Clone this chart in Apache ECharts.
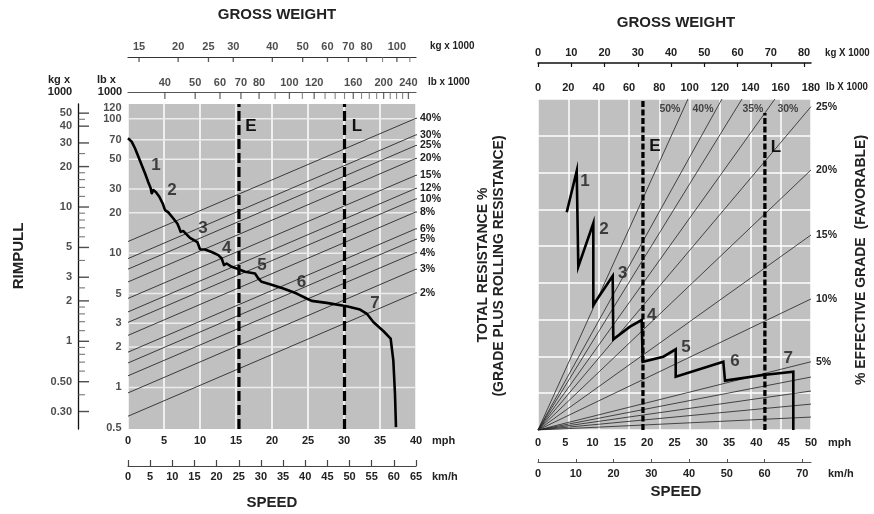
<!DOCTYPE html>
<html><head><meta charset="utf-8">
<script src="https://cdn.jsdelivr.net/npm/echarts@6/dist/echarts.min.js"></script>
<style>html,body{margin:0;padding:0;background:#fff}#c{width:874px;height:514px}</style>
</head><body><div id="c"></div>
<script>
// ================= LEFT CHART (RIMPULL) DATA =================
const leftWeightLbRange = [30.5, 253.8];      // lb x 1000 across the plot (log)
const leftWeightKgRange = [13.83, 115.1];     // kg x 1000 across the plot (log)
const rimpullRangeLb = [0.49, 129];           // lb x 1000 rimpull (log)
const rimpullRangeKg = [0.2223, 58.5];        // kg x 1000 rimpull (log)
const leftWeightKgMajor = [15, 20, 25, 30, 40, 50, 60, 70, 80, 100];
const leftWeightKgMinor = [90, 110];
const leftWeightLbMajor = [40, 50, 60, 70, 80, 100, 120, 160, 200, 240];
const leftWeightLbMinor = [90, 110, 130, 140, 150, 170, 180, 190, 210, 220, 230];
const rimpullTickLabels = [120, 100, 70, 50, 30, 20, 10, 5, 3, 2, 1, 0.5];
const rimpullGridValues = [100, 70, 50, 30, 20, 10, 5, 3, 2, 1];
const rimpullKgMajor = [50, 40, 30, 20, 10, 5, 3, 2, 1, 0.5, 0.3];
const rimpullKgMajorText = ['50', '40', '30', '20', '10', '5', '3', '2', '1', '0.50', '0.30'];
const rimpullKgMinor = [45, 25, 18, 16, 14, 12, 9, 8, 7, 6, 4, 2.5, 1.8, 1.6, 1.4, 1.2, 0.9, 0.8, 0.7, 0.6, 0.4];
const gradeLabels = ['40%', '30%', '25%', '20%', '15%', '12%', '10%', '8%', '6%', '5%', '4%', '3%', '2%'];
const gradeRimpullAtMinWeight = [12.2, 9.1, 7.6, 6.1, 4.6, 3.65, 3.05, 2.44, 1.83, 1.52, 1.22, 0.91, 0.61];
const gradeRimpullAtMaxWeight = [101, 76, 63.4, 50.8, 38, 30.4, 25.4, 20.3, 15.2, 12.7, 10.1, 7.6, 5.07];
const gradeLeaderWeightLb = 270.3;            // where the short leader to each label ends
const gradeLeaderRimpull = [100, 76.9, 62.9, 50.3, 37.8, 30.4, 24.7, 19.3, 14.85, 12.36, 9.71, 7.38, 4.86];
const leftEmptyWeightLb = 69;
const leftLoadedWeightLb = 150;
// rimpull curve: [mph, lb x 1000]
const rimpullCurve = [
  [0, 71.7], [0.51, 67.7], [0.97, 60.4], [1.43, 52.4], [1.9, 45.4], [2.36, 39.3], [2.82, 33.7],
  [3.15, 30.4], [3.29, 27.9], [3.52, 29.5], [3.89, 28.4], [4.35, 26.3], [4.81, 23.5], [5.14, 20.9],
  [5.6, 20.1], [6.3, 18.1], [6.85, 16.6], [7.13, 15.3], [7.31, 14.4], [7.69, 14.6], [8.61, 13.0],
  [9.63, 12.1], [10.0, 10.7], [10.69, 10.65], [11.62, 10.2], [12.55, 9.66], [13.01, 9.12],
  [13.33, 8.14], [13.7, 8.37], [14.4, 7.91], [15.09, 7.69], [16.25, 7.26], [17.64, 7.05],
  [18.1, 6.47], [18.56, 6.11], [19.72, 5.87], [21.57, 5.45], [23.43, 5.0], [24.81, 4.59],
  [25.51, 4.41], [27.59, 4.26], [30.37, 4.02], [32.22, 3.8], [33.15, 3.55], [34.07, 3.07],
  [35.46, 2.63], [36.48, 2.31], [36.85, 1.59], [37.08, 0.897], [37.22, 0.506]
];
const gearNames = ['1', '2', '3', '4', '5', '6', '7'];
const leftGearLabelMph = [3.9, 6.1, 10.4, 13.7, 18.6, 24.1, 34.3];
const leftGearLabelRimpull = [45.3, 29.5, 15.4, 10.9, 8.1, 6.1, 4.25];

// ================= RIGHT CHART (RETARDER) DATA =================
const rightWeightKgTicks = [0, 10, 20, 30, 40, 50, 60, 70, 80];
const rightSpeedKmhTicks = [0, 10, 20, 30, 40, 50, 60, 70];
const resistanceMax = 25.56;
const effGradeLabels = ['50%', '40%', '35%', '30%', '25%', '20%', '15%', '10%', '5%', '4%', '3%', '2%', '1%'];
const effGradeEndLb = [98.9, 121.3, 134.5, 156.2, 180, 180, 180, 180, 180, 180, 180, 180, 180];
const effGradeEndPct = [25.56, 25.56, 25.56, 25.56, 24.97, 20.08, 15.06, 10.12, 5.27, 4.09, 3.01, 2.0, 1.0];
const effGradeShowEndLabel = [false, false, false, false, true, true, true, true, true, false, false, false, false];
const topGradeLabels = ['50%', '40%', '35%', '30%'];
const topGradeLabelLb = [87, 108.8, 141.7, 164.8];
const topGradeLabelPct = [24.8, 24.8, 24.8, 24.8];
const rightEmptyWeightLb = 69.2;
const rightLoadedWeightLb = 149.6;
const rightLoadedLineTopPct = 24.48;
// retarder curve: [mph, total resistance %]
const retarderCurve = [
  [5.26, 16.81], [7.09, 20.0], [7.38, 12.61], [10.13, 15.96], [10.13, 9.65], [13.68, 11.89],
  [13.79, 7.0], [16.85, 7.98], [18.99, 8.49], [19.18, 5.27], [22.95, 5.66], [25.22, 6.23],
  [25.22, 4.12], [33.94, 5.27], [34.25, 3.81], [41.26, 4.25], [46.76, 4.5], [46.76, 0]
];
const rightGearLabelMph = [8.61, 12.09, 15.51, 20.82, 27.1, 36.08, 45.84];
const rightGearLabelPct = [19.23, 15.52, 12.1, 8.88, 6.41, 5.27, 5.54];

// ================= STYLES =================
const FT = "'Liberation Sans Narrow','Liberation Sans',Arial,sans-serif";
const FN = "'Liberation Sans',Arial,sans-serif";
const tickFont = { fontFamily: FT, fontWeight: 'bold', fontSize: 11, color: '#222' };
const GRAY = '#c0c0c0';
const GRIDLINE = '#ececec';
const hidden = { show: false };
const noLine = { show: false, onZero: false };
const PLOT_W_LEFT = 288;

const grids = [
  { left: 128, top: 104, width: PLOT_W_LEFT, height: 325, show: true, backgroundColor: GRAY, borderWidth: 0, outerBoundsMode: 'none' },
  { left: 128, top: 57, width: 288, height: 5, outerBoundsMode: 'none' },
  { left: 128, top: 92, width: 288, height: 7, outerBoundsMode: 'none' },
  { left: 78, top: 104, width: 11, height: 325, outerBoundsMode: 'none' },
  { left: 538, top: 99, width: 273, height: 331, show: true, backgroundColor: GRAY, borderWidth: 0, outerBoundsMode: 'none' }
];

const xAxes = [
  { gridIndex: 0, type: 'value', min: 0, max: 40, interval: 5, position: 'bottom',
    axisLine: noLine, axisTick: hidden, axisLabel: Object.assign({ margin: 6 }, tickFont),
    splitLine: { show: true, lineStyle: { color: '#fff', width: 1.5 } } },
  { gridIndex: 0, type: 'log', min: leftWeightLbRange[0], max: leftWeightLbRange[1], position: 'top', show: false },
  { gridIndex: 0, type: 'value', min: 0, max: 65, interval: 5, position: 'bottom', offset: 37,
    axisLine: { show: true, onZero: false, lineStyle: { color: '#444', width: 1.2 } },
    axisTick: { show: true, inside: true, length: 6, lineStyle: { color: '#444', width: 1.2 } },
    axisLabel: Object.assign({ margin: 5 }, tickFont), splitLine: hidden },
  { gridIndex: 1, type: 'log', min: leftWeightKgRange[0], max: leftWeightKgRange[1], position: 'top',
    axisLine: { show: true, onZero: false, lineStyle: { color: '#333', width: 1.2 } },
    axisTick: hidden, axisLabel: hidden, splitLine: hidden },
  { gridIndex: 2, type: 'log', min: leftWeightLbRange[0], max: leftWeightLbRange[1], position: 'top',
    axisLine: { show: true, onZero: false, lineStyle: { color: '#555', width: 1.2 } },
    axisTick: hidden, axisLabel: hidden, splitLine: hidden },
  { gridIndex: 3, type: 'value', min: 0, max: 1, show: false },
  { gridIndex: 4, type: 'value', min: 0, max: 50, interval: 5, position: 'bottom',
    axisLine: noLine, axisTick: hidden, axisLabel: Object.assign({ margin: 7 }, tickFont), splitLine: hidden },
  { gridIndex: 4, type: 'value', min: 0, max: 180, interval: 20, position: 'top',
    axisLine: noLine, axisTick: hidden, axisLabel: Object.assign({ margin: 6 }, tickFont),
    splitLine: { show: true, lineStyle: { color: '#fff', width: 1.5 } } },
  { gridIndex: 4, type: 'value', min: 0, max: 82.1, interval: 10, position: 'top', offset: 36,
    axisLine: { show: true, onZero: false, lineStyle: { color: '#111', width: 1.5 } },
    axisTick: { show: true, inside: true, length: 4, customValues: rightWeightKgTicks, lineStyle: { color: '#111', width: 1.2 } },
    axisLabel: Object.assign({ margin: 5, customValues: rightWeightKgTicks }, tickFont), splitLine: hidden },
  { gridIndex: 4, type: 'value', min: 0, max: 72.3, interval: 10, position: 'bottom', offset: 32,
    axisLine: { show: true, onZero: false, lineStyle: { color: '#555', width: 1.2 } },
    axisTick: { show: true, inside: true, length: 3, customValues: rightSpeedKmhTicks, lineStyle: { color: '#555' } },
    axisLabel: Object.assign({ margin: 6, customValues: rightSpeedKmhTicks }, tickFont), splitLine: hidden }
];

const yAxes = [
  { gridIndex: 0, type: 'log', min: rimpullRangeLb[0], max: rimpullRangeLb[1], show: false },
  { gridIndex: 1, type: 'value', min: 0, max: 1, show: false },
  { gridIndex: 2, type: 'value', min: 0, max: 1, show: false },
  { gridIndex: 3, type: 'log', min: rimpullRangeKg[0], max: rimpullRangeKg[1], position: 'left',
    axisLine: { show: true, onZero: false, lineStyle: { color: '#111', width: 1.3 } },
    axisTick: hidden, axisLabel: hidden, splitLine: hidden },
  { gridIndex: 4, type: 'value', min: 0, max: resistanceMax, interval: resistanceMax / 9,
    axisLine: noLine, axisTick: hidden, axisLabel: hidden,
    splitLine: { show: true, lineStyle: { color: '#fff', width: 1.5 } } }
];

const series = [];
const labelOnly = (extra) => Object.assign({ type: 'scatter', symbol: 'circle', symbolSize: 1, silent: true,
  itemStyle: { color: 'transparent' } }, extra);
const gearFont = { fontFamily: FN, fontSize: 17, fontWeight: 'bold', color: '#1a1a1a' };

// --- left: light horizontal grid lines drawn as full-width bar symbols placed on the log rimpull scale
series.push({ type: 'scatter', xAxisIndex: 0, yAxisIndex: 0, symbol: 'rect', symbolSize: [PLOT_W_LEFT, 1.5],
  silent: true, z: 3, itemStyle: { color: GRIDLINE, opacity: 1 },
  data: rimpullGridValues.map(v => [20, v]) });
// --- left: grade lines (with short leaders to their labels)
gradeLabels.forEach((g, i) => {
  series.push({ type: 'line', xAxisIndex: 1, yAxisIndex: 0, symbol: 'none', silent: true, z: 4, clip: false,
    data: [[leftWeightLbRange[0], gradeRimpullAtMinWeight[i]], [leftWeightLbRange[1], gradeRimpullAtMaxWeight[i]],
      [gradeLeaderWeightLb, gradeLeaderRimpull[i]]],
    lineStyle: { color: '#2a2a2a', width: 0.9 },
    endLabel: Object.assign({ show: true, formatter: g, distance: 3 }, tickFont, { fontSize: 10.5 }) });
});
// --- left: E and L weight lines
[leftEmptyWeightLb, leftLoadedWeightLb].forEach(w => {
  series.push({ type: 'line', xAxisIndex: 1, yAxisIndex: 0, symbol: 'none', silent: true, z: 5,
    data: [[w, rimpullRangeLb[0]], [w, rimpullRangeLb[1]]],
    lineStyle: { color: '#000', width: 3.2, type: [10, 4] } });
});
// --- left: rimpull curve
series.push({ type: 'line', xAxisIndex: 0, yAxisIndex: 0, symbol: 'none', silent: true, z: 6,
  data: rimpullCurve, lineStyle: { color: '#000', width: 2.6, join: 'round' } });
// --- left: gear labels
series.push(labelOnly({ xAxisIndex: 0, yAxisIndex: 0, z: 7,
  data: gearNames.map((n, i) => ({ name: n, value: [leftGearLabelMph[i], leftGearLabelRimpull[i]] })),
  label: Object.assign({ show: true, position: 'inside', formatter: '{b}' }, gearFont) }));
// --- left: rimpull lb tick labels
series.push(labelOnly({ xAxisIndex: 0, yAxisIndex: 0, z: 7,
  data: rimpullTickLabels.map(v => [0, v]),
  label: Object.assign({ show: true, position: 'left', distance: 6, formatter: p => String(p.value[1]) }, tickFont) }));
// --- left: top kg weight scale
series.push({ type: 'scatter', xAxisIndex: 3, yAxisIndex: 1, symbol: 'rect', symbolSize: [1.3, 5], silent: true,
  itemStyle: { color: '#333' }, data: leftWeightKgMajor.map(v => [v, 0.5]),
  label: Object.assign({ show: true, position: 'top', distance: 5, formatter: p => String(p.value[0]) }, tickFont) });
series.push({ type: 'scatter', xAxisIndex: 3, yAxisIndex: 1, symbol: 'rect', symbolSize: [1.1, 5], silent: true,
  itemStyle: { color: '#666' }, data: leftWeightKgMinor.map(v => [v, 0.5]) });
// --- left: top lb weight scale
series.push({ type: 'scatter', xAxisIndex: 4, yAxisIndex: 2, symbol: 'rect', symbolSize: [1.3, 7], silent: true,
  itemStyle: { color: '#444' }, data: leftWeightLbMajor.map(v => [v, 0.5]),
  label: Object.assign({ show: true, position: 'top', distance: 4, formatter: p => String(p.value[0]) }, tickFont) });
series.push({ type: 'scatter', xAxisIndex: 4, yAxisIndex: 2, symbol: 'rect', symbolSize: [1.1, 7], silent: true,
  itemStyle: { color: '#666' }, data: leftWeightLbMinor.map(v => [v, 0.5]) });
// --- left: kg rimpull vertical scale
series.push({ type: 'scatter', xAxisIndex: 5, yAxisIndex: 3, symbol: 'rect', symbolSize: [11, 1.4], silent: true,
  itemStyle: { color: '#222' }, data: rimpullKgMajor.map((v, i) => ({ name: rimpullKgMajorText[i], value: [0.5, v] })),
  label: Object.assign({ show: true, position: 'left', distance: 6, formatter: '{b}' }, tickFont) });
series.push({ type: 'scatter', xAxisIndex: 5, yAxisIndex: 3, symbol: 'rect', symbolSize: [7, 1.1], symbolOffset: [-2, 0], silent: true,
  itemStyle: { color: '#555' }, data: rimpullKgMinor.map(v => [0.5, v]) });

// --- right: effective grade radial lines
effGradeLabels.forEach((g, i) => {
  series.push({ type: 'line', xAxisIndex: 7, yAxisIndex: 4, symbol: 'none', silent: true, z: 3,
    data: [[0, 0], [effGradeEndLb[i], effGradeEndPct[i]]],
    lineStyle: { color: '#222', width: 0.8 },
    endLabel: Object.assign({ show: effGradeShowEndLabel[i], formatter: g, distance: 5 }, tickFont, { fontSize: 10.5 }) });
});
series.push(labelOnly({ xAxisIndex: 7, yAxisIndex: 4, z: 6,
  data: topGradeLabels.map((n, i) => ({ name: n, value: [topGradeLabelLb[i], topGradeLabelPct[i]] })),
  label: Object.assign({ show: true, position: 'inside', formatter: '{b}' }, tickFont, { fontSize: 10.5 }) }));
// --- right: E and L lines
series.push({ type: 'line', xAxisIndex: 7, yAxisIndex: 4, symbol: 'none', silent: true, z: 4,
  data: [[rightEmptyWeightLb, 0], [rightEmptyWeightLb, resistanceMax]],
  lineStyle: { color: '#000', width: 3.3, type: [6, 2.5] } });
series.push({ type: 'line', xAxisIndex: 7, yAxisIndex: 4, symbol: 'none', silent: true, z: 4,
  data: [[rightLoadedWeightLb, 0], [rightLoadedWeightLb, rightLoadedLineTopPct]],
  lineStyle: { color: '#000', width: 3.3, type: [6, 2.5] } });
// --- right: retarder curve
series.push({ type: 'line', xAxisIndex: 6, yAxisIndex: 4, symbol: 'none', silent: true, z: 5,
  data: retarderCurve, lineStyle: { color: '#000', width: 2.6, join: 'miter' } });
series.push(labelOnly({ xAxisIndex: 6, yAxisIndex: 4, z: 6,
  data: gearNames.map((n, i) => ({ name: n, value: [rightGearLabelMph[i], rightGearLabelPct[i]] })),
  label: Object.assign({ show: true, position: 'inside', formatter: '{b}' }, gearFont) }));

// ================= TEXT =================
const txt = (text, x, y, o) => {
  o = o || {};
  const el = { type: 'text', x: x, y: y, silent: true, z: 10,
    style: Object.assign({ text: text, fill: '#222', align: 'center', verticalAlign: 'middle',
      font: "bold 11px " + FT }, o.style || {}) };
  if (o.rotation) el.rotation = o.rotation;
  if (o.scaleX) el.scaleX = o.scaleX;
  return el;
};
const title = "bold 15px " + FN;
const big = "bold 17px " + FN;
const rot = "bold 14px " + FN;
const graphics = [
  txt('GROSS WEIGHT', 277, 15, { style: { font: title } }),
  txt('kg x 1000', 430, 46, { style: { align: 'left' }, scaleX: 0.9 }),
  txt('lb x 1000', 428, 82, { style: { align: 'left' }, scaleX: 0.9 }),
  txt('kg x', 59, 80), txt('1000', 60, 92),
  txt('lb x', 97, 80, { style: { align: 'left' } }), txt('1000', 110, 92),
  txt('RIMPULL', 19, 256, { rotation: Math.PI / 2, style: { font: title } }),
  txt('mph', 432, 441, { style: { align: 'left' } }),
  txt('km/h', 432, 477, { style: { align: 'left' } }),
  txt('SPEED', 272, 503, { style: { font: title } }),
  txt('E', 251, 126, { style: { font: big, fill: '#111' } }),
  txt('L', 357, 126, { style: { font: big, fill: '#111' } }),
  txt('GROSS WEIGHT', 676, 23, { style: { font: title } }),
  txt('kg X 1000', 825, 53, { style: { align: 'left' }, scaleX: 0.88 }),
  txt('lb X 1000', 826, 87, { style: { align: 'left' }, scaleX: 0.88 }),
  txt('TOTAL RESISTANCE %', 483, 265, { rotation: Math.PI / 2, style: { font: rot } }),
  txt('(GRADE PLUS ROLLING RESISTANCE)', 499, 266, { rotation: Math.PI / 2, style: { font: rot } }),
  txt('% EFFECTIVE GRADE  (FAVORABLE)', 861, 260, { rotation: Math.PI / 2, style: { font: rot } }),
  txt('mph', 828, 443, { style: { align: 'left' } }),
  txt('km/h', 828, 474, { style: { align: 'left' } }),
  txt('SPEED', 676, 492, { style: { font: title } }),
  txt('E', 655, 146, { style: { font: big, fill: '#111' } }),
  txt('L', 776, 147, { style: { font: big, fill: '#111' } })
];

const chart = echarts.init(document.getElementById('c'), null, { renderer: 'canvas', width: 874, height: 514 });
chart.setOption({
  animation: false,
  backgroundColor: '#fff',
  grid: grids,
  xAxis: xAxes,
  yAxis: yAxes,
  series: series,
  graphic: graphics
});
</script></body></html>
